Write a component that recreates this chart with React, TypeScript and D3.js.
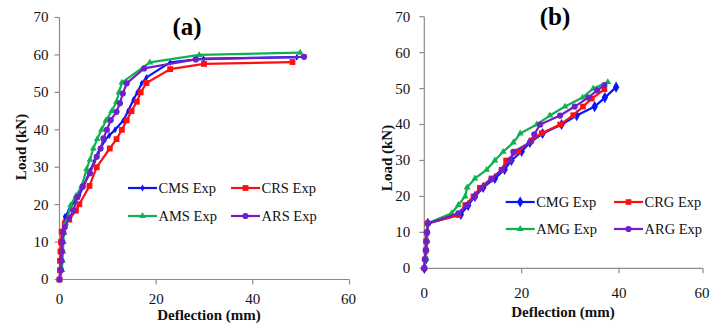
import React from "react";
import * as d3 from "d3";

// ---------- Data ----------
const yTicks = [0, 10, 20, 30, 40, 50, 60, 70];
const xTicks = [0, 20, 40, 60];

// Panel (a)
const cmsX = [0, 0.3, 0.4, 0.5, 0.6, 0.7, 1.1, 2.0, 2.9, 4.1, 5.0, 6.3, 7.2, 8.0, 9.4, 10.3, 11.5, 13.2, 14.2, 15.3, 16.1, 17.0, 18.0, 22.9, 29.8, 49.1];
const cmsY = [0, 2.5, 5, 7.5, 10, 12.5, 16.8, 18.5, 20.8, 22.6, 25, 29, 31.5, 33.7, 37.3, 38.5, 40, 42.5, 45, 48, 50, 52.4, 54, 58, 59, 59.4];
const crsX = [0, 0.1, 0.1, 0.2, 0.3, 0.45, 1.1, 2.0, 3.4, 4.1, 6.2, 7.7, 10.4, 11.8, 12.9, 13.9, 14.9, 16.0, 16.8, 18.0, 22.9, 29.9, 48.2];
const crsY = [0, 2.5, 5, 7.5, 10, 12.8, 15, 16, 18.4, 20.1, 25, 30, 35, 37.5, 40, 42.5, 45, 47.5, 50, 52.5, 56.2, 57.6, 58.1];
const amsX = [0, 0.5, 0.6, 0.7, 0.8, 0.9, 1.3, 2.3, 3.4, 4.6, 5.6, 6.3, 7.0, 7.8, 8.7, 9.6, 10.8, 11.8, 12.3, 12.9, 18.7, 28.9, 49.8];
const amsY = [0, 2.5, 5, 7.5, 10, 12.5, 15, 19.8, 22.3, 25, 29.5, 32, 35, 37.5, 40, 42.5, 45, 47.5, 50, 52.6, 58, 60, 60.6];
const arsX = [0, 0.3, 0.4, 0.5, 0.6, 0.8, 1.1, 2.0, 2.9, 3.7, 4.8, 6.3, 7.7, 8.5, 9.1, 9.8, 10.6, 11.8, 12.5, 13.1, 13.9, 17.5, 28.2, 50.6];
const arsY = [0, 2.5, 5, 7.5, 10, 12.5, 14, 16.5, 18.5, 22, 24.8, 28.4, 32.8, 35, 37.7, 40, 42.6, 44.8, 47.1, 49.7, 52.4, 56.4, 58.8, 59.5];

// Panel (b)
const cmgX = [0, 0.3, 0.4, 0.5, 0.6, 0.7, 7.5, 9.0, 10.4, 12.1, 14.5, 16.5, 17.9, 20.0, 21.7, 24.3, 28.2, 31.3, 35.0, 37.1, 39.4];
const cmgY = [0, 2.5, 5, 7.5, 10, 12.5, 15, 17.5, 20, 22.5, 25, 27.5, 30, 32.5, 35, 37.5, 40, 42.5, 45, 47.5, 50.4];
const crgX = [0, 0.2, 0.3, 0.4, 0.5, 0.6, 7.0, 8.4, 10.1, 11.4, 13.8, 15.9, 16.8, 19.3, 22.0, 24.1, 27.9, 30.6, 32.6, 34.4, 37.0];
const crgY = [0, 2.5, 5, 7.5, 10, 12.5, 14.8, 17.6, 20, 22.4, 25, 27.4, 30, 32.5, 35.5, 37.6, 40, 42.6, 45, 47.2, 49.8];
const amgX = [0, 0.3, 0.4, 0.5, 0.6, 0.7, 5.6, 7.0, 8.4, 8.8, 10.4, 12.8, 14.5, 16.2, 18.3, 19.7, 23.1, 25.8, 28.9, 32.5, 34.7, 37.7];
const amgY = [0, 2.5, 5, 7.5, 10, 12.5, 15.3, 17.6, 20, 22.5, 25, 27.4, 30, 32.4, 35, 37.5, 40, 42.5, 45, 47.5, 50, 51.8];
const argX = [0, 0.1, 0.3, 0.4, 0.5, 0.8, 7.0, 8.8, 10.4, 11.8, 13.8, 15.9, 17.6, 18.3, 21.7, 22.6, 23.8, 27.9, 30.9, 33.7, 35.5, 37.0];
const argY = [0, 2.5, 5, 7.5, 10, 12.5, 15.3, 17.6, 20, 22.3, 24.8, 27.4, 30, 32.4, 35, 37.3, 40, 42.5, 45, 47.5, 49.5, 51];

const namesA = ["CMS Exp", "CRS Exp", "AMS Exp", "ARS Exp"];
const namesB = ["CMG Exp", "CRG Exp", "AMG Exp", "ARG Exp"];

// ---------- Styles ----------
const COLORS = ["#0a14ff", "#ff1010", "#10b050", "#7020c8"];
const SYMBOLS = [d3.symbolDiamond, d3.symbolSquare, d3.symbolTriangle, d3.symbolCircle];
const AXIS = "#8c8c8c";
const FONT = "'Liberation Serif', 'Times New Roman', serif";

type Series = { name: string; xs: number[]; ys: number[]; color: string; symbol: d3.SymbolType; size: number };

type PanelProps = {
  label: string;
  series: Series[];
  x: d3.ScaleLinear<number, number>;
  y: d3.ScaleLinear<number, number>;
  xAxisEnd: number;
  tickLabelBaseline: number;
  xTitleY: number;
  xTitleX: number;
  yTitleX: number;
  yTitleY: number;
  titleX: number;
  titleY: number;
  legendX: number[];
  legendY: number[];
  legendLine: number;
  yLabelGap: number;
};

function Panel(p: PanelProps) {
  const { x, y } = p;
  const x0 = x(0);
  const y0 = y(0);
  const line = d3.line<[number, number]>().x((d) => x(d[0])).y((d) => y(d[1]));
  return (
    <g fontFamily={FONT}>
      {/* axes */}
      <line x1={x0} x2={x0} y1={y(0)} y2={y(70)} stroke={AXIS} strokeWidth={1.2} />
      <line x1={x0} x2={p.xAxisEnd} y1={y0} y2={y0} stroke={AXIS} strokeWidth={1.2} />
      {yTicks.map((t) => (
        <g key={"y" + t}>
          <line x1={x0 - 5} x2={x0} y1={y(t)} y2={y(t)} stroke={AXIS} strokeWidth={1.2} />
          <text x={x0 - p.yLabelGap} y={y(t)} dy="0.33em" textAnchor="end" fontSize={15} fill="#111">
            {t}
          </text>
        </g>
      ))}
      {xTicks.map((t) => {
        const px = Math.min(x(t), p.xAxisEnd);
        return (
          <g key={"x" + t}>
            {t > 0 && <line x1={px} x2={px} y1={y0} y2={y0 + 5} stroke={AXIS} strokeWidth={1.2} />}
            <text x={t === 60 ? px - 1 : px} y={p.tickLabelBaseline} textAnchor="middle" fontSize={15} fill="#111">
              {t}
            </text>
          </g>
        );
      })}
      <text x={p.xTitleX} y={p.xTitleY} textAnchor="middle" fontSize={15} fontWeight="bold" fill="#111">
        Deflection (mm)
      </text>
      <text
        transform={`translate(${p.yTitleX},${p.yTitleY}) rotate(-90)`}
        textAnchor="middle"
        fontSize={15}
        fontWeight="bold"
        fill="#111"
      >
        Load (kN)
      </text>
      <text x={p.titleX} y={p.titleY} textAnchor="middle" fontSize={25} fontWeight="bold" fill="#000">
        {p.label}
      </text>
      {/* series */}
      {p.series.map((s, i) => {
        const pts: [number, number][] = s.xs.map((v, k) => [v, s.ys[k]]);
        const sym = d3.symbol().type(s.symbol).size(s.size)();
        return (
          <g key={s.name}>
            <path d={line(pts) || ""} fill="none" stroke={s.color} strokeWidth={2.2} strokeLinejoin="round" />
            {pts.map((d, k) => (
              <path key={k} d={sym || ""} transform={`translate(${x(d[0])},${y(d[1])})`} fill={s.color} />
            ))}
          </g>
        );
      })}
      {/* legend */}
      {p.series.map((s, i) => {
        const lx = p.legendX[i % 2];
        const ly = p.legendY[Math.floor(i / 2)];
        const sym = d3.symbol().type(s.symbol).size(s.size)();
        return (
          <g key={"lg" + s.name}>
            <line x1={lx} x2={lx + p.legendLine} y1={ly} y2={ly} stroke={s.color} strokeWidth={2.2} />
            <path d={sym || ""} transform={`translate(${lx + p.legendLine / 2},${ly})`} fill={s.color} />
            <text x={lx + p.legendLine + 1.5} y={ly} dy="0.33em" fontSize={14.5} fill="#111">
              {s.name}
            </text>
          </g>
        );
      })}
    </g>
  );
}

export default function App() {
  const xa = d3.scaleLinear().domain([0, 60]).range([59.5, 349.5]);
  const ya = d3.scaleLinear().domain([0, 70]).range([279.5, 17.5]);
  const xb = d3.scaleLinear().domain([0, 40, 60]).range([424.3, 619, 703]);
  const yb = d3.scaleLinear().domain([0, 70]).range([268.3, 16.7]);

  const seriesA: Series[] = [
    { name: namesA[0], xs: cmsX, ys: cmsY, color: COLORS[0], symbol: SYMBOLS[0], size: 14 },
    { name: namesA[1], xs: crsX, ys: crsY, color: COLORS[1], symbol: SYMBOLS[1], size: 34 },
    { name: namesA[2], xs: amsX, ys: amsY, color: COLORS[2], symbol: SYMBOLS[2], size: 20 },
    { name: namesA[3], xs: arsX, ys: arsY, color: COLORS[3], symbol: SYMBOLS[3], size: 30 },
  ];
  const seriesB: Series[] = [
    { name: namesB[0], xs: cmgX, ys: cmgY, color: COLORS[0], symbol: SYMBOLS[0], size: 36 },
    { name: namesB[1], xs: crgX, ys: crgY, color: COLORS[1], symbol: SYMBOLS[1], size: 32 },
    { name: namesB[2], xs: amgX, ys: amgY, color: COLORS[2], symbol: SYMBOLS[2], size: 20 },
    { name: namesB[3], xs: argX, ys: argY, color: COLORS[3], symbol: SYMBOLS[3], size: 30 },
  ];

  return (
    <svg
      width={713}
      height={326}
      style={{ position: "absolute", left: 0, top: 0, background: "#fff" }}
    >
      <rect width={713} height={326} fill="#fff" />
      <Panel
        label="(a)"
        series={seriesA}
        x={xa}
        y={ya}
        xAxisEnd={349.5}
        tickLabelBaseline={304}
        xTitleX={209}
        xTitleY={320}
        yTitleX={26}
        yTitleY={147}
        titleX={187}
        titleY={35}
        legendX={[128, 231]}
        legendY={[188, 216]}
        legendLine={29}
        yLabelGap={11}
      />
      <Panel
        label="(b)"
        series={seriesB}
        x={xb}
        y={yb}
        xAxisEnd={703}
        tickLabelBaseline={298}
        xTitleX={563}
        xTitleY={317}
        yTitleX={392}
        yTitleY={158}
        titleX={555}
        titleY={25}
        legendX={[505.7, 614]}
        legendY={[202, 229]}
        legendLine={29}
        yLabelGap={14}
      />
    </svg>
  );
}
